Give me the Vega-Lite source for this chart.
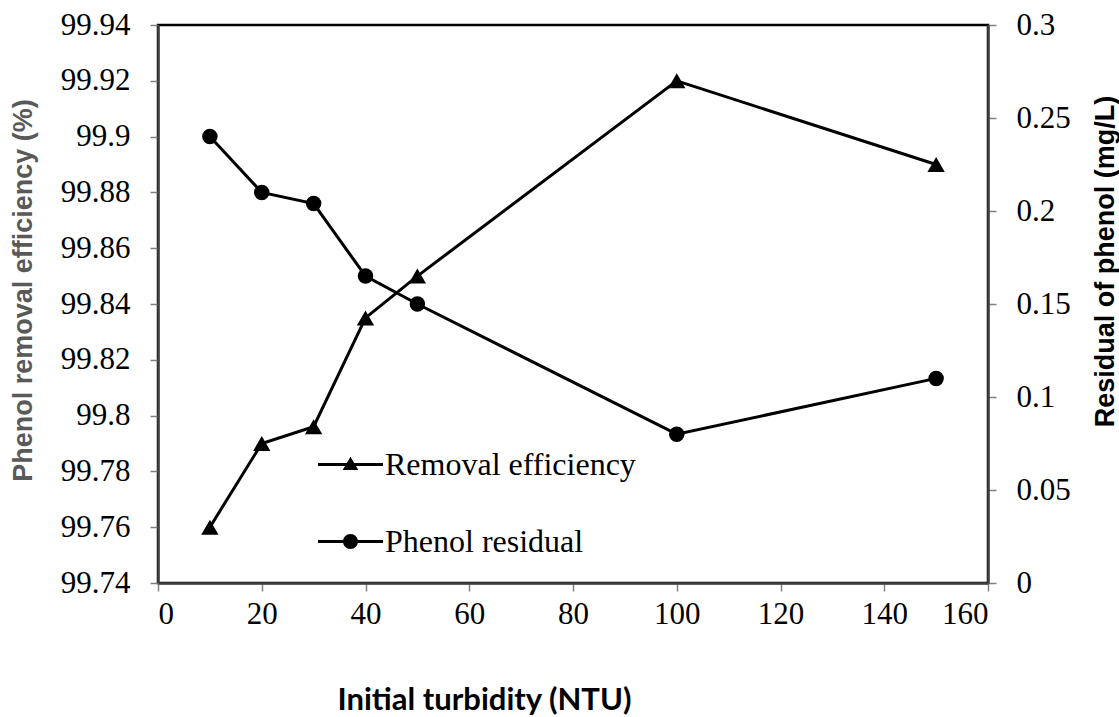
{
  "$schema": "https://vega.github.io/schema/vega-lite/v6.json",
  "width": 830,
  "height": 558,
  "autosize": {"type": "none"},
  "padding": {"left": 158, "top": 25, "right": 131, "bottom": 134},
  "background": "white",
  "config": {
    "view": {"stroke": "black", "strokeWidth": 2.5},
    "axis": {
      "grid": false,
      "labelFont": "Liberation Serif",
      "labelFontSize": 31,
      "labelColor": "black",
      "labelOverlap": false,
      "tickSize": 8,
      "tickColor": "#808080",
      "tickWidth": 1.5,
      "domainColor": "#404040",
      "domainWidth": 2.5,
      "titleFont": "Liberation Sans",
      "titleFontSize": 27,
      "titleFontWeight": "bold",
      "titleColor": "black"
    }
  },
  "data": {
    "values": [
      {"turbidity": 10, "efficiency": 99.76, "residual": 0.24},
      {"turbidity": 20, "efficiency": 99.79, "residual": 0.21},
      {"turbidity": 30, "efficiency": 99.796, "residual": 0.204},
      {"turbidity": 40, "efficiency": 99.835, "residual": 0.165},
      {"turbidity": 50, "efficiency": 99.85, "residual": 0.15},
      {"turbidity": 100, "efficiency": 99.92, "residual": 0.08},
      {"turbidity": 150, "efficiency": 99.89, "residual": 0.11}
    ]
  },
  "encoding": {
    "x": {
      "field": "turbidity",
      "type": "quantitative",
      "scale": {"domain": [0, 160], "nice": false, "zero": false},
      "axis": {
        "values": [0, 20, 40, 60, 80, 100, 120, 140, 160],
        "format": "d",
        "labelPadding": 8,
        "title": "Initial turbidity (NTU)",
        "titleFont": "Lato",
        "titleFontSize": 31,
        "titleX": 326,
        "titleY": 117,
        "titleAlign": "center",
        "titleBaseline": "middle"
      }
    }
  },
  "layer": [
    {
      "encoding": {
        "y": {
          "field": "efficiency",
          "type": "quantitative",
          "scale": {"domain": [99.74, 99.94], "nice": false, "zero": false},
          "axis": {
            "orient": "left",
            "values": [99.74, 99.76, 99.78, 99.8, 99.82, 99.84, 99.86, 99.88, 99.9, 99.92, 99.94],
            "format": "~r",
            "labelPadding": 20,
            "title": "Phenol removal efficiency (%)",
            "titleColor": "#595959",
            "titleAngle": 270,
            "titleX": -135,
            "titleY": 265,
            "titleAlign": "center",
            "titleBaseline": "middle"
          }
        }
      },
      "layer": [
        {"mark": {"type": "line", "color": "black", "strokeWidth": 3}},
        {"mark": {"type": "point", "shape": "triangle-up", "filled": true, "color": "black", "opacity": 1, "size": 300}},
        {
          "transform": [{"fold": ["efficiency", "residual"], "as": ["series", "v"]}],
          "mark": {"type": "point", "filled": true, "color": "black", "opacity": 0},
          "encoding": {
            "shape": {
              "field": "series",
              "type": "nominal",
              "scale": {
                "domain": ["efficiency", "residual"],
                "range": [
                  "M-1,-0.045H1V0.045H-1ZM0,-0.24L0.24,0.17L-0.24,0.17Z",
                  "M-1,-0.045H1V0.045H-1ZM0.23,0A0.23,0.23 0 1,1 -0.23,0A0.23,0.23 0 1,1 0.23,0Z"
                ]
              },
              "legend": {
                "orient": "none",
                "legendX": 159,
                "legendY": 406,
                "title": null,
                "symbolSize": 4225,
                "symbolFillColor": "black",
                "symbolStrokeColor": "black",
                "symbolOpacity": 1,
                "labelFont": "Liberation Serif",
                "labelFontSize": 32,
                "labelColor": "black",
                "labelLimit": 0,
                "labelOffset": 1,
                "rowPadding": 27,
                "labelExpr": "datum.value == 'efficiency' ? 'Removal efficiency' : 'Phenol residual'",
                "encode": {
                  "symbols": {
                    "update": {
                      "opacity": {"value": 1},
                      "fill": {"value": "black"}
                    }
                  }
                }
              }
            }
          }
        }
      ]
    },
    {
      "encoding": {
        "y": {
          "field": "residual",
          "type": "quantitative",
          "scale": {"domain": [0, 0.3], "nice": false, "zero": false},
          "axis": {
            "orient": "right",
            "values": [0, 0.05, 0.1, 0.15, 0.2, 0.25, 0.3],
            "format": "~r",
            "labelPadding": 20,
            "title": "Residual of phenol (mg/L)",
            "titleAngle": 270,
            "titleX": 117,
            "titleY": 236,
            "titleAlign": "center",
            "titleBaseline": "middle"
          }
        }
      },
      "layer": [
        {"mark": {"type": "line", "color": "black", "strokeWidth": 3}},
        {"mark": {"type": "point", "shape": "circle", "filled": true, "color": "black", "opacity": 1, "size": 240}}
      ]
    }
  ],
  "resolve": {"scale": {"y": "independent"}}
}
